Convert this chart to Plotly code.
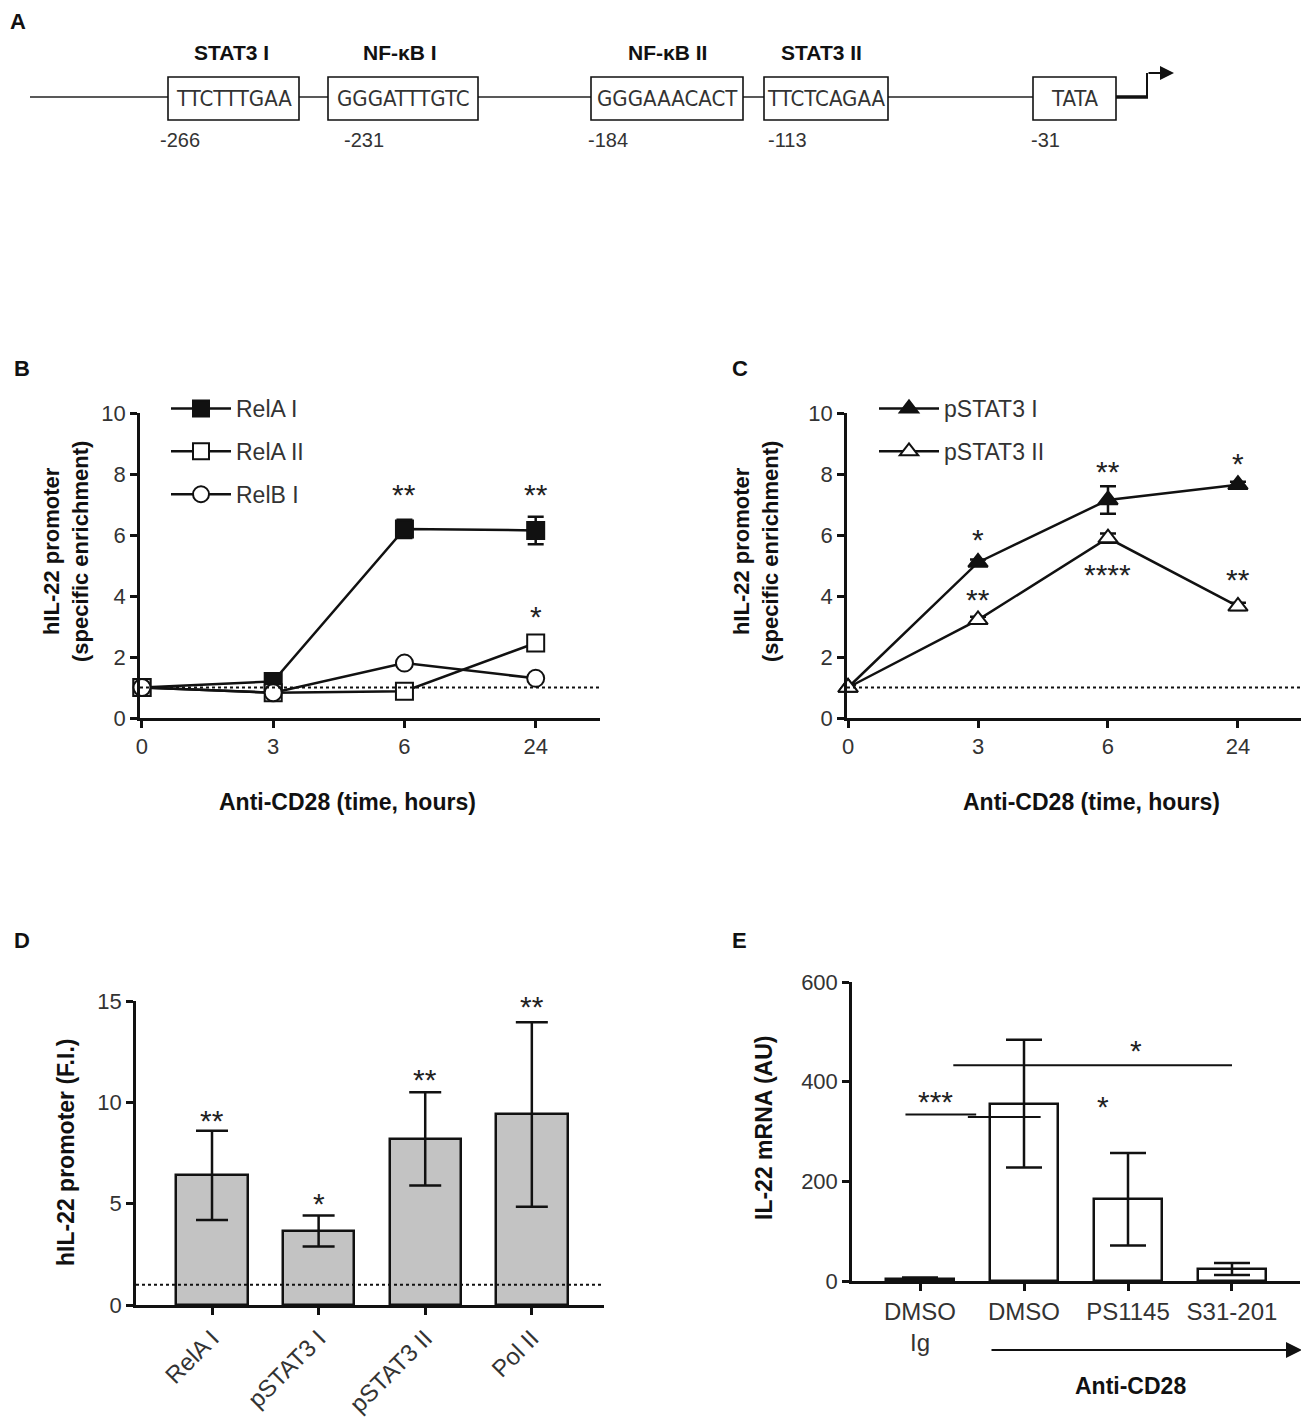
import plotly.graph_objects as go

W, H = 1309, 1428
OFF = 8  # the page body margin shifts the figure by 8px
def fx(px): return (px - OFF) / W
def fy(py): return 1 - (py - OFF) / H

FONT = "Liberation Sans, Arial, sans-serif"
NARROW = "Liberation Sans Narrow, DejaVu Sans Condensed, Arial Narrow, sans-serif"

# ---------------- data ----------------
time_labels = ["0", "3", "6", "24"]
relA_I = [1.0, 1.2, 6.2, 6.15]
relA_I_err = [0.1, 0.1, 0.3, 0.45]
relA_II = [1.0, 0.83, 0.88, 2.46]
relA_II_err = [0.08, 0.08, 0.1, 0.12]
relB_I = [1.0, 0.83, 1.8, 1.3]
relB_I_err = [0.08, 0.08, 0.1, 0.1]

pstat3_I = [1.0, 5.1, 7.15, 7.65]
pstat3_I_err = [0.1, 0.1, 0.45, 0.1]
pstat3_II = [1.0, 3.22, 5.9, 3.66]
pstat3_II_err = [0.1, 0.1, 0.15, 0.12]

d_categories = ["RelA I", "pSTAT3 I", "pSTAT3 II", "Pol II"]
d_values = [6.4, 3.65, 8.2, 9.4]
d_errors = [2.2, 0.76, 2.3, 4.55]
d_stars = ["**", "*", "**", "**"]
d_star_y = [9.5, 5.4, 11.5, 15.1]

e_categories = ["DMSO<br>Ig", "DMSO", "PS1145", "S31-201"]
e_values = [4, 356, 164, 24]
e_errors = [3, 128, 93, 12]

site_names = ["STAT3 I", "NF-κB I", "NF-κB II", "STAT3 II"]
site_seqs = ["TTCTTTGAA", "GGGATTTGTC", "GGGAAACACT", "TTCTCAGAA", "TATA"]
site_positions = ["-266", "-231", "-184", "-113", "-31"]

fig = go.Figure()
idx = list(range(4))

def line_trace(y, err, name, symbol, fill, xa, ya, legend):
    return go.Scatter(
        x=idx, y=y, name=name, mode="lines+markers",
        line=dict(color="#111", width=2.5),
        marker=dict(symbol=symbol, size=17, color=fill, line=dict(color="#111", width=2)),
        error_y=dict(type="data", array=err, color="#111", thickness=2.5, width=8),
        xaxis=xa, yaxis=ya, legend=legend, legendgroup=name, cliponaxis=False,
    )

fig.add_trace(line_trace(relA_I, relA_I_err, "RelA I", "square", "#111", "x", "y", "legend"))
fig.add_trace(line_trace(relA_II, relA_II_err, "RelA II", "square", "white", "x", "y", "legend"))
fig.add_trace(line_trace(relB_I, relB_I_err, "RelB I", "circle", "white", "x", "y", "legend"))
fig.add_trace(line_trace(pstat3_I, pstat3_I_err, "pSTAT3 I", "triangle-up", "#111", "x2", "y2", "legend2"))
fig.add_trace(line_trace(pstat3_II, pstat3_II_err, "pSTAT3 II", "triangle-up", "white", "x2", "y2", "legend2"))

fig.add_trace(go.Bar(
    x=idx, y=d_values, width=0.67, xaxis="x3", yaxis="y3", showlegend=False,
    marker=dict(color="#c3c3c3", line=dict(color="#111", width=2.5)),
    error_y=dict(type="data", array=d_errors, color="#111", thickness=2.5, width=16),
))
fig.add_trace(go.Bar(
    x=idx, y=e_values, width=0.66, xaxis="x4", yaxis="y4", showlegend=False,
    marker=dict(color="white", line=dict(color="#111", width=2.5)),
    error_y=dict(type="data", array=e_errors, color="#111", thickness=2.5, width=18),
))

def ax(size=22, **kw):
    d = dict(
        showline=True, linecolor="#111", linewidth=2.5, ticks="outside", ticklen=7,
        tickwidth=2.5, tickcolor="#111", showgrid=False, zeroline=False, automargin=False,
        tickfont=dict(family=FONT, size=size, color="#333"), fixedrange=True,
    )
    d.update(kw)
    return d

fig.update_layout(
    template="none",
    width=W, height=H, margin=dict(l=0, r=0, t=0, b=0, autoexpand=False),
    paper_bgcolor="white", plot_bgcolor="rgba(0,0,0,0)",
    font=dict(family=FONT, color="#111"),
    bargap=0,
    xaxis=ax(domain=[fx(140), fx(600)], range=[-0.015, 3.49], tickvals=idx, ticktext=time_labels, anchor="y"),
    yaxis=ax(domain=[fy(718), fy(413)], range=[0, 10], dtick=2, anchor="x"),
    xaxis2=ax(domain=[fx(847), fx(1301)], range=[-0.008, 3.485], tickvals=idx, ticktext=time_labels, anchor="y2"),
    yaxis2=ax(domain=[fy(718), fy(413)], range=[0, 10], dtick=2, anchor="x2"),
    xaxis3=ax(size=24, domain=[fx(136), fx(604)], range=[-0.713, 3.677], tickvals=idx, ticktext=d_categories,
              tickangle=-45, anchor="y3"),
    yaxis3=ax(domain=[fy(1305), fy(1001)], range=[0, 15], dtick=5, anchor="x3"),
    xaxis4=ax(size=24, domain=[fx(852), fx(1300)], range=[-0.654, 3.654], tickvals=idx, ticktext=e_categories,
              anchor="y4"),
    yaxis4=ax(domain=[fy(1281), fy(982)], range=[0, 600], dtick=200, anchor="x4"),
    legend=dict(x=fx(166), y=fy(387), xanchor="left", yanchor="top", bgcolor="rgba(0,0,0,0)",
                font=dict(family=FONT, size=23, color="#333"), tracegroupgap=10, itemwidth=60),
    legend2=dict(x=fx(874), y=fy(387), xanchor="left", yanchor="top", bgcolor="rgba(0,0,0,0)",
                 font=dict(family=FONT, size=23, color="#333"), tracegroupgap=10, itemwidth=60),
)

shapes = []
annotations = []

# dotted reference lines at 1
for xr, yr in [("x", "y"), ("x2", "y2"), ("x3", "y3")]:
    shapes.append(dict(type="line", xref=f"{xr} domain", yref=yr, x0=0, x1=1, y0=1, y1=1,
                       line=dict(color="#111", width=2, dash="dot"), layer="above"))

# significance asterisks (y = visual centre of the stars)
def star(text, x, y, xr, yr, ppu, ymax):
    anchor = min(y, ymax * 0.96)
    annotations.append(dict(text=text, x=x, y=anchor, xref=xr, yref=yr, showarrow=False,
                            font=dict(family=FONT, size=30, color="#222"),
                            yshift=-8 + (y - anchor) * ppu))

pb = 305 / 10
star("**", 2, 7.6, "x", "y", pb, 10); star("**", 3, 7.6, "x", "y", pb, 10); star("*", 3, 3.6, "x", "y", pb, 10)
star("*", 1, 6.1, "x2", "y2", pb, 10); star("**", 1, 4.15, "x2", "y2", pb, 10)
star("**", 2, 8.36, "x2", "y2", pb, 10); star("****", 2, 4.97, "x2", "y2", pb, 10)
star("*", 3, 8.6, "x2", "y2", pb, 10); star("**", 3, 4.8, "x2", "y2", pb, 10)
for i in idx:
    star(d_stars[i], i, d_star_y[i], "x3", "y3", 304 / 15, 15)
pe = 299 / 600
star("***", 0.15, 377, "x4", "y4", pe, 600); star("*", 1.76, 367, "x4", "y4", pe, 600)
star("*", 2.08, 478, "x4", "y4", pe, 600)

# significance bars in E
for x0, x1, yv in [(-0.14, 0.54, 334), (0.46, 1.16, 329), (0.32, 3.0, 433)]:
    shapes.append(dict(type="line", xref="x4", yref="y4", x0=x0, x1=x1, y0=yv, y1=yv,
                       line=dict(color="#111", width=2)))

def txt(text, x, y, size=22, bold=True, angle=0, color="#111", family=FONT, xanchor="center"):
    t = f"<b>{text}</b>" if bold else text
    annotations.append(dict(text=t, x=fx(x), y=fy(y), xref="paper", yref="paper", showarrow=False,
                            textangle=angle, xanchor=xanchor, yanchor="middle",
                            font=dict(family=family, size=size, color=color)))

txt("Anti-CD28 (time, hours)", 347, 802, size=23)
txt("Anti-CD28 (time, hours)", 1091, 802, size=23)
txt("<b>hIL-22 promoter</b><br><b>(specific enrichment)</b>", 66, 552, angle=-90, bold=False)
txt("<b>hIL-22 promoter</b><br><b>(specific enrichment)</b>", 756, 552, angle=-90, bold=False)
txt("hIL-22 promoter (F.I.)", 66, 1153, angle=-90, size=23)
txt("IL-22 mRNA (AU)", 764, 1128, angle=-90, size=23)
txt("Anti-CD28", 1130, 1386, size=23)

txt("A", 8, 22, size=22, xanchor="left")
for letter, x, y in [("B", 22, 368), ("C", 740, 368), ("D", 22, 940), ("E", 740, 940)]:
    txt(letter, x, y, size=22)

# arrow in E
annotations.append(dict(x=fx(1302), y=fy(1350), xref="paper", yref="paper", ax=-312, ay=0,
                        axref="pixel", ayref="pixel", showarrow=True, arrowhead=2, arrowsize=1.6,
                        arrowwidth=2, arrowcolor="#111", text=""))

# ---------------- panel A diagram ----------------
box_left = [168, 328, 591, 764, 1033]
box_right = [299, 478, 743, 888, 1116]
header_x = [231, 400, 667, 821]
number_x = [180, 364, 608, 787, 1045]
line_y, box_top, box_bot = 97, 77, 120

shapes.append(dict(type="line", xref="paper", yref="paper", x0=fx(30), x1=fx(1033),
                   y0=fy(line_y), y1=fy(line_y), line=dict(color="#222", width=1.6)))
for i in range(5):
    shapes.append(dict(type="rect", xref="paper", yref="paper", x0=fx(box_left[i]), x1=fx(box_right[i]),
                       y0=fy(box_bot), y1=fy(box_top), fillcolor="white",
                       line=dict(color="#111", width=1.6)))
    txt(site_seqs[i], (box_left[i] + box_right[i]) / 2, line_y + 1, size=22, bold=False,
        color="#333", family=NARROW)
    txt(site_positions[i], number_x[i], 140, size=20, bold=False, color="#333")
for i in range(4):
    txt(site_names[i], header_x[i], 52, size=21)

shapes.append(dict(type="line", xref="paper", yref="paper", x0=fx(1116), x1=fx(1148),
                   y0=fy(line_y), y1=fy(line_y), line=dict(color="#111", width=3.5)))
shapes.append(dict(type="line", xref="paper", yref="paper", x0=fx(1147), x1=fx(1147),
                   y0=fy(line_y + 1), y1=fy(73), line=dict(color="#111", width=2)))
annotations.append(dict(x=fx(1174), y=fy(73), xref="paper", yref="paper", ax=-27, ay=0,
                        axref="pixel", ayref="pixel", showarrow=True, arrowhead=2, arrowsize=1.4,
                        arrowwidth=2, arrowcolor="#111", text=""))

fig.update_layout(shapes=shapes, annotations=annotations)
fig.write_html("out.html")
